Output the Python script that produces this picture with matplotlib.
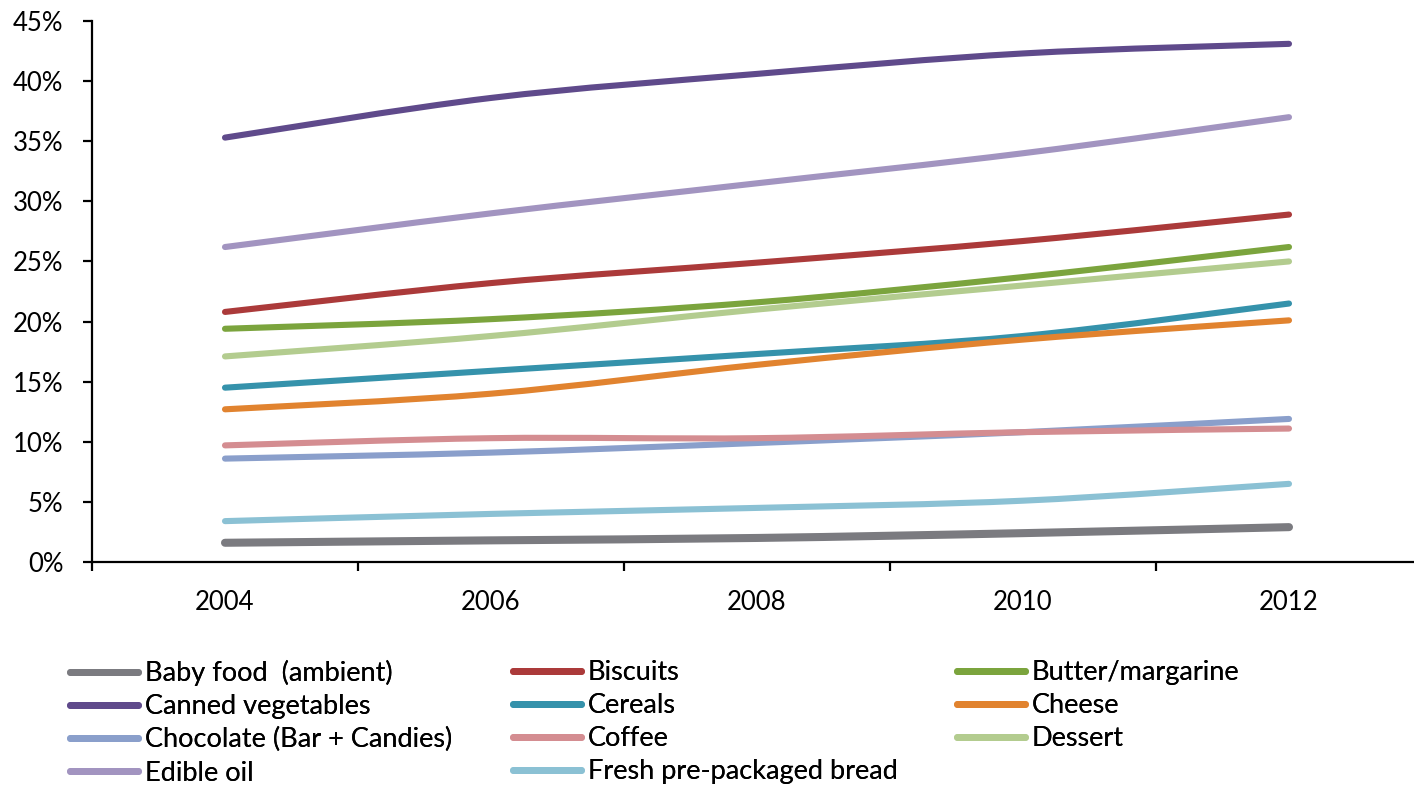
import matplotlib
matplotlib.use("Agg")
import matplotlib.pyplot as plt
from matplotlib.path import Path
from matplotlib.patches import PathPatch
from matplotlib.lines import Line2D
from matplotlib.ticker import FuncFormatter, FixedLocator

plt.rcParams['font.family'] = ['Lato', 'DejaVu Sans']

years = ["2004", "2006", "2008", "2010", "2012"]

baby_food = [1.6, 1.8, 2.0, 2.4, 2.9]
biscuits = [20.8, 23.2, 24.9, 26.7, 28.9]
butter_margarine = [19.4, 20.2, 21.6, 23.7, 26.2]
canned_vegetables = [35.3, 38.6, 40.6, 42.3, 43.1]
cereals = [14.5, 15.9, 17.3, 18.8, 21.5]
cheese = [12.7, 14.0, 16.4, 18.5, 20.1]
chocolate = [8.6, 9.1, 9.9, 10.8, 11.9]
coffee = [9.7, 10.3, 10.3, 10.8, 11.1]
dessert = [17.1, 18.8, 21.0, 23.0, 25.0]
edible_oil = [26.2, 29.0, 31.5, 34.0, 37.0]
fresh_bread = [3.4, 4.0, 4.5, 5.1, 6.5]

# legend columns (each read top to bottom)
legend_columns = [
    [("Baby food  (ambient)", baby_food, "#7b7b80", 5.8),
     ("Canned vegetables", canned_vegetables, "#5f4a8b", 4.4),
     ("Chocolate (Bar + Candies)", chocolate, "#8a9fcb", 4.4),
     ("Edible oil", edible_oil, "#a294c0", 4.4)],
    [("Biscuits", biscuits, "#ab3a3a", 4.4),
     ("Cereals", cereals, "#3592ab", 4.4),
     ("Coffee", coffee, "#d48d91", 4.4),
     ("Fresh pre-packaged bread", fresh_bread, "#8bc1d4", 4.4)],
    [("Butter/margarine", butter_margarine, "#7ba43d", 4.4),
     ("Cheese", cheese, "#e1832f", 4.4),
     ("Dessert", dessert, "#b3cc8f", 4.4)],
]
legend_x = [70, 513, 957]

draw_order = ["Baby food  (ambient)", "Biscuits", "Butter/margarine", "Canned vegetables",
              "Cereals", "Cheese", "Chocolate (Bar + Candies)", "Coffee", "Dessert",
              "Edible oil", "Fresh pre-packaged bread"]


def smooth_path(xs, ys):
    """Catmull-Rom style smoothed path through the points, as cubic Beziers."""
    pts = list(zip(xs, ys))
    n = len(pts)
    verts = [pts[0]]
    codes = [Path.MOVETO]
    for i in range(n - 1):
        p0 = pts[i - 1] if i > 0 else pts[i]
        p1 = pts[i]
        p2 = pts[i + 1]
        p3 = pts[i + 2] if i + 2 < n else pts[i + 1]
        c1 = (p1[0] + (p2[0] - p0[0]) / 6.0, p1[1] + (p2[1] - p0[1]) / 6.0)
        c2 = (p2[0] - (p3[0] - p1[0]) / 6.0, p2[1] - (p3[1] - p1[1]) / 6.0)
        verts += [c1, c2, p2]
        codes += [Path.CURVE4] * 3
    return Path(verts, codes)


fig = plt.figure(figsize=(14.14, 7.86), dpi=100)
ax = fig.add_axes([92 / 1414, 224 / 786, 1330 / 1414, 541 / 786])

x = list(range(len(years)))
lookup = {s[0]: s for col in legend_columns for s in col}
for name in draw_order:
    label, vals, color, lw = lookup[name]
    patch = PathPatch(smooth_path(x, vals), facecolor="none", edgecolor=color,
                      lw=lw, capstyle="round", joinstyle="round")
    ax.add_patch(patch)

ax.set_xlim(-0.5, len(years) - 0.5)
ax.set_ylim(0, 45)
ax.set_yticks(range(0, 46, 5))
ax.yaxis.set_major_formatter(FuncFormatter(lambda v, p: f"{int(v)}%"))
ax.set_xticks(x)
ax.set_xticklabels(years)
ax.xaxis.set_minor_locator(FixedLocator([i - 0.5 for i in range(len(years) + 1)]))

for side in ("top", "right"):
    ax.spines[side].set_visible(False)
for side in ("left", "bottom"):
    ax.spines[side].set_linewidth(1.6)
    ax.spines[side].set_color("black")

ax.tick_params(axis="y", which="major", length=6.5, width=1.6, pad=14, labelsize=18.5)
ax.tick_params(axis="x", which="major", length=0, pad=20, labelsize=18.5)
ax.tick_params(axis="x", which="minor", length=6.5, width=1.6)

for col, xpix in zip(legend_columns, legend_x):
    handles = [Line2D([], [], color=c, lw=5.0, solid_capstyle="round") for _, _, c, _ in col]
    labels = [s[0] for s in col]
    leg = fig.legend(handles, labels, ncol=1, loc="upper left",
                     bbox_to_anchor=(xpix / 1414, 1 - 660 / 786),
                     frameon=False, fontsize=19.5, handlelength=2.5, handletextpad=0.26,
                     labelspacing=0.30, borderpad=0, borderaxespad=0)
    fig.add_artist(leg)

fig.savefig("out.png", dpi=100, facecolor="white")
